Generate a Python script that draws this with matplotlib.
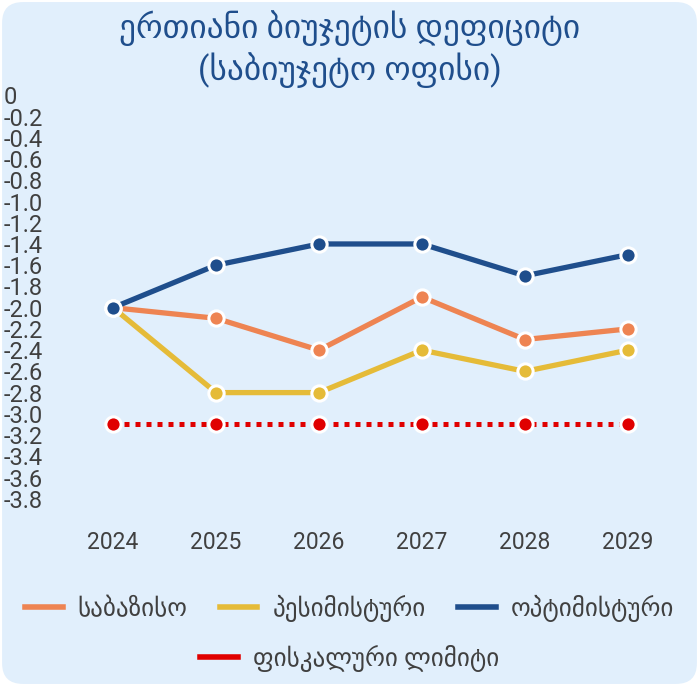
import matplotlib
matplotlib.use('Agg')
import matplotlib.pyplot as plt
from matplotlib.patches import FancyBboxPatch
from matplotlib.lines import Line2D

# data
years = [2024, 2025, 2026, 2027, 2028, 2029]
base = [-2.0, -2.1, -2.4, -1.9, -2.3, -2.2]
pessimistic = [-2.0, -2.8, -2.8, -2.4, -2.6, -2.4]
optimistic = [-2.0, -1.6, -1.4, -1.4, -1.7, -1.5]
fiscal_limit = [-3.1, -3.1, -3.1, -3.1, -3.1, -3.1]
y_ticks = [0, -0.2, -0.4, -0.6, -0.8, -1.0, -1.2, -1.4, -1.6, -1.8, -2.0,
           -2.2, -2.4, -2.6, -2.8, -3.0, -3.2, -3.4, -3.6, -3.8]

title = 'ერთიანი ბიუჯეტის დეფიციტი\n(საბიუჯეტო ოფისი)'
labels = ['საბაზისო', 'პესიმისტური', 'ოპტიმისტური', 'ფისკალური ლიმიტი']

c_base = '#ee8452'
c_pess = '#e5bb38'
c_opt = '#1f4e8c'
c_red = '#e00000'
bg = '#e1effc'
txt = '#404040'

plt.rcParams['font.family'] = ['Roboto', 'DejaVu Sans']

fig = plt.figure(figsize=(6.99, 6.86), dpi=100)
fig.patch.set_facecolor('white')
box = FancyBboxPatch((0.003, 0.003), 0.994, 0.994, transform=fig.transFigure,
                     boxstyle='round,pad=0,rounding_size=0.03',
                     facecolor=bg, edgecolor='none', zorder=-5)
fig.patches.append(box)

ax = fig.add_axes([0.088, 0.242, 0.884, 0.619])
ax.set_facecolor('none')
ax.set_zorder(2)

mk = dict(marker='o', markersize=11, markeredgecolor='white', markeredgewidth=2.2)
ax.plot(years, fiscal_limit, color=c_red, linewidth=3.6, linestyle=(0, (1, 1.2)),
        dash_capstyle='butt', **mk)
ax.plot(years, pessimistic, color=c_pess, linewidth=3.8, **mk)
ax.plot(years, base, color=c_base, linewidth=3.8, **mk)
ax.plot(years, optimistic, color=c_opt, linewidth=3.8, **mk)

ax.set_xlim(2023.5, 2029.5)
ax.set_ylim(-4.0, 0)
ax.set_xticks(years)
ax.set_xticklabels([str(y) for y in years])
ax.set_yticks(y_ticks)
ax.set_yticklabels(['0'] + ['%.1f' % v for v in y_ticks[1:]])
for s in ax.spines.values():
    s.set_visible(False)
ax.tick_params(axis='both', length=0, colors=txt)
ax.tick_params(axis='x', pad=8, labelsize=16.5)
ax.tick_params(axis='y', pad=42, labelsize=17)
for lab in ax.get_yticklabels():
    lab.set_horizontalalignment('left')

fig.text(0.5, 0.985, title, ha='center', va='top', fontsize=24, color=c_opt,
         linespacing=1.2)

h1 = [Line2D([], [], color=c, linewidth=4) for c in (c_base, c_pess, c_opt)]
leg1 = fig.legend(h1, labels[:3], loc='center', bbox_to_anchor=(0.5, 0.113), ncol=3,
                  frameon=False, fontsize=18, handlelength=1.5, columnspacing=1.3,
                  labelcolor=txt, handletextpad=0.6)
h2 = [Line2D([], [], color=c_red, linewidth=4)]
leg2 = fig.legend(h2, labels[3:], loc='center', bbox_to_anchor=(0.5, 0.04),
                  frameon=False, fontsize=18, handlelength=1.5,
                  labelcolor=txt, handletextpad=0.6)

fig.savefig('out.png', dpi=100, facecolor='white')
